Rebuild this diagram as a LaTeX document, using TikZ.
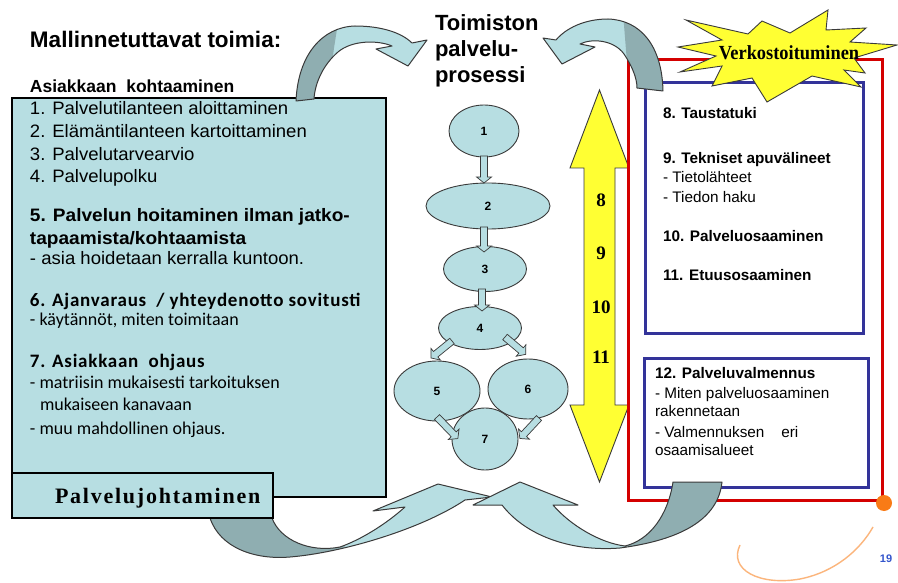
\documentclass[tikz,border=0pt]{standalone}
\usepackage{fontspec}
\setmainfont{Liberation Sans}
\newfontfamily\serifb{Liberation Serif}
\newfontfamily\calib{Carlito}
\newfontfamily\calibsp[LetterSpace=4]{Carlito}
\newfontfamily\bodyfont[FakeStretch=1.03]{Liberation Sans}
\newfontfamily\bodybfont[FakeStretch=1.06]{Liberation Sans}
\newfontfamily\palvfont[LetterSpace=8]{Liberation Serif}
\newfontfamily\verkfont[FakeStretch=0.92]{Liberation Serif}
\usetikzlibrary{shapes.geometric}
\definecolor{lblue}{HTML}{B7DEE2}
\definecolor{gblue}{HTML}{8FAEB1}
\definecolor{ylw}{HTML}{FFFF33}
\definecolor{rbox}{HTML}{D40000}
\definecolor{bbox}{HTML}{333399}
\definecolor{orng}{HTML}{F97B16}
\definecolor{outl}{HTML}{3A3A3A}
\definecolor{pgnum}{HTML}{3355CC}
\newcommand{\ribbon}[2]{%
  \begin{scope}\clip #1; \fill[lblue] (0,0) rectangle (898,583); \fill[gblue] #2; \end{scope}
  \draw[draw=outl, line width=1pt, line join=round] #1;}
\newcommand{\blk}[4]{\draw[smallarr, shift={(#1,#2)}, rotate=#3] (0,-3.5) -- ({#4-6},-3.5) -- ({#4-6},-7.5) -- (#4,0) -- ({#4-6},7.5) -- ({#4-6},3.5) -- (0,3.5) -- cycle;}
\begin{document}
\begin{tikzpicture}[x=1pt,y=-1pt,
  every node/.style={inner sep=0pt, outer sep=0pt},
  tl/.style={anchor=base west},
  bodyf/.style={font=\bodyfont\fontsize{18}{21}\selectfont},
  bodyb/.style={font=\bodybfont\fontsize{18}{21}\selectfont\bfseries},
  calr/.style={font=\calib\fontsize{18}{21}\selectfont},
  calb/.style={font=\calibsp\fontsize{19}{22}\selectfont\bfseries},
  panr/.style={font=\fontsize{15.3}{18}\selectfont},
  panb/.style={font=\fontsize{15.3}{18}\selectfont\bfseries},
  ell/.style={ellipse, draw=outl, line width=0.9pt, fill=lblue, font=\fontsize{12}{14}\selectfont\bfseries},
  smallarr/.style={draw=outl, fill=lblue, line width=0.7pt, line join=miter},
  ynum/.style={anchor=base, font=\serifb\fontsize{19}{22}\selectfont\bfseries},
  redframe/.style={draw=rbox, line width=3pt},
  blueframe/.style={draw=bbox, line width=3pt},
]
\useasboundingbox (0,0) rectangle (898,583);
\fill[white] (0,0) rectangle (898,583);

% left main box
\node[draw=black, line width=1.2pt, fill=lblue, minimum width=374, minimum height=399, anchor=north west] (mainbox) at (12,98) {};

% bottom-left ribbon arrow
\ribbon{(208,505) -- (210,518) .. controls (220,548) and (255,560) .. (290,557) .. controls (340,553) and (420,530) .. (465,500) -- (492,497) -- (438,484) -- (373,511) -- (405,507) .. controls (385,525) and (360,540) .. (340,547) .. controls (310,553) and (280,540) .. (272,518) -- (272,505) -- cycle}{(190,490) -- (342,490) -- (346,575) -- (190,575) -- cycle}

% Palvelujohtaminen box
\node[draw=black, line width=1.2pt, fill=lblue, minimum width=261, minimum height=45, anchor=north west] (pjbox) at (12,473) {};
\node[anchor=base west, font=\palvfont\bfseries\fontsize{22}{26}\selectfont] (pj) at (55,503) {Palvelujohtaminen};

% top-left ribbon arrow
\ribbon{(296,101) .. controls (298,55) and (322,27) .. (355,26) .. controls (382,26) and (402,33) .. (412,43) -- (427,40) -- (408,66) -- (376,49) -- (392,46) .. controls (378,40) and (352,40) .. (338,52) .. controls (324,64) and (315,82) .. (314,99) -- cycle}{(280,110) -- (280,10) -- (340,10) -- (334,48) -- (326,110) -- cycle}

% headings
\node[tl, font=\fontsize{22.5}{25}\selectfont\bfseries] (title) at (30,48) {Mallinnetuttavat toimia:};
\node[tl, font=\fontsize{17.5}{20}\selectfont\bfseries] (asiak) at (30,93) {Asiakkaan\ \ kohtaaminen};

% left box text
\node[tl, bodyf] (l1) at (30,115) {1. Palvelutilanteen aloittaminen};
\node[tl, bodyf] (l2) at (30,138) {2. Elämäntilanteen kartoittaminen};
\node[tl, bodyf] (l3) at (30,161) {3. Palvelutarvearvio};
\node[tl, bodyf] (l4) at (30,183) {4. Palvelupolku};
\node[tl, bodyb] (l5) at (30,222) {5. Palvelun hoitaminen ilman jatko-};
\node[tl, bodyb] (l5b) at (30,244) {tapaamista/kohtaamista};
\node[tl, bodyf] (l5c) at (30,265) {- asia hoidetaan kerralla kuntoon.};
\node[tl, calb] (l6) at (30,306) {6. Ajanvaraus\ \ / yhteydenotto sovitusti};
\node[tl, calr] (l6b) at (30,325) {- käytännöt, miten toimitaan};
\node[tl, calb] (l7) at (30,367) {7. Asiakkaan\ \ ohjaus};
\node[tl, calr] (l7b) at (30,388) {- matriisin mukaisesti tarkoituksen};
\node[tl, calr] (l7c) at (40,410) {mukaiseen kanavaan};
\node[tl, calr] (l7d) at (30,434) {- muu mahdollinen ohjaus.};

% process title
\node[tl, font=\fontsize{22}{24}\selectfont\bfseries] (tp1) at (435,31) {Toimiston};
\node[tl, font=\fontsize{22}{24}\selectfont\bfseries] (tp2) at (435,57) {palvelu-};
\node[tl, font=\fontsize{22}{24}\selectfont\bfseries] (tp3) at (435,83) {prosessi};

% process ellipses
\node[ell, minimum width=70, minimum height=52] (e1) at (484,131) {1};
\node[ell, minimum width=124, minimum height=46] (e2) at (488,206) {2};
\node[ell, minimum width=83, minimum height=45] (e3) at (485,269) {3};
\node[ell, minimum width=83, minimum height=43] (e4) at (480,328) {4};
\node[ell, minimum width=86, minimum height=60] (e5) at (437,391) {5};
\node[ell, minimum width=80, minimum height=60] (e6) at (528,389) {6};
\node[ell, minimum width=66, minimum height=62] (e7) at (485,439) {7};

% small block arrows
\blk{484}{156}{-90}{27}
\blk{484}{227}{-90}{25}
\blk{482}{289}{-90}{22}
\blk{452}{341}{-141}{27}
\blk{505}{337}{-40}{27}
\blk{437}{417}{-46}{30}
\blk{539}{418}{-133}{28}

% yellow double arrow
\draw[fill=ylw, draw=outl, line width=0.9pt, line join=miter] (599.5,90) -- (629,168) -- (615,168) -- (615,405) -- (629,405) -- (599.5,482) -- (570,405) -- (584,405) -- (584,168) -- (570,168) -- cycle;
\node[ynum] (n8) at (601,207) {8};
\node[ynum] (n9) at (601,260) {9};
\node[ynum] (n10) at (601,313) {10};
\node[ynum] (n11) at (601,363) {11};

% right frames
\draw[redframe] (628,60) rectangle (882,500);
\draw[blueframe] (645,83) rectangle (863,333);
\draw[blueframe] (644,358) rectangle (868,487);

\node[tl, panb] (r8) at (663,119) {8. Taustatuki};
\node[tl, panb] (r9) at (663,164) {9. Tekniset apuvälineet};
\node[tl, panr] (r9a) at (663,183) {- Tietolähteet};
\node[tl, panr] (r9b) at (663,203) {- Tiedon haku};
\node[tl, panb] (r10) at (663,241) {10. Palveluosaaminen};
\node[tl, panb] (r11) at (663,280) {11. Etuusosaaminen};

\node[tl, panb] (r12) at (655,378) {12. Palveluvalmennus};
\node[tl, panr] (r12a) at (655,398) {- Miten palveluosaaminen};
\node[tl, panr] (r12b) at (655,416) {rakennetaan};
\node[tl, panr] (r12c) at (655,437) {- Valmennuksen\ \ \ \ eri};
\node[tl, panr] (r12d) at (655,455) {osaamisalueet};

% top-right ribbon arrow
\ribbon{(663,91) .. controls (662,45) and (640,20) .. (608,19) .. controls (585,19) and (566,28) .. (556,40) -- (543,38) -- (562,64) -- (595,47) -- (580,44) .. controls (592,38) and (614,40) .. (624,54) .. controls (632,66) and (637,78) .. (637,88) -- cycle}{(622,0) -- (700,0) -- (700,100) -- (630,100) -- (626,50) -- cycle}

% bottom-right ribbon arrow
\ribbon{(722,482) .. controls (718,520) and (680,540) .. (620,548) .. controls (570,552) and (525,535) .. (502,505) -- (473,505) -- (520,482) -- (578,505) -- (553,505) .. controls (570,525) and (600,543) .. (625,546) .. controls (650,540) and (668,515) .. (673,482) -- cycle}{(628,470) -- (740,470) -- (740,575) -- (628,575) -- cycle}

% starburst
\draw[fill=ylw, draw=outl, line width=0.9pt, line join=miter] (678,47) -- (722,40) -- (686,20) -- (748,34) -- (762,21) -- (790,33) -- (828,10) -- (826,30) -- (866,28) -- (850,42) -- (897,45) -- (854,58) -- (865,73) -- (844,70) -- (861,87) -- (812,76) -- (767,102) -- (752,78) -- (712,86) -- (722,66) -- (680,72) -- (716,56) -- cycle;
\node[anchor=base, font=\verkfont\bfseries\fontsize{20}{24}\selectfont] (verk) at (789,60) {Verkostoituminen};

% decoration
\fill[orng] (884,503) circle (8);
\draw[orng!70, line width=1.4pt, opacity=0.8] (740,545) .. controls (728,570) and (760,586) .. (800,579) .. controls (835,572) and (860,550) .. (873,527);
\node[anchor=base, font=\fontsize{11}{13}\selectfont\bfseries, text=pgnum] (pg) at (886,562) {19};
\end{tikzpicture}
\end{document}
